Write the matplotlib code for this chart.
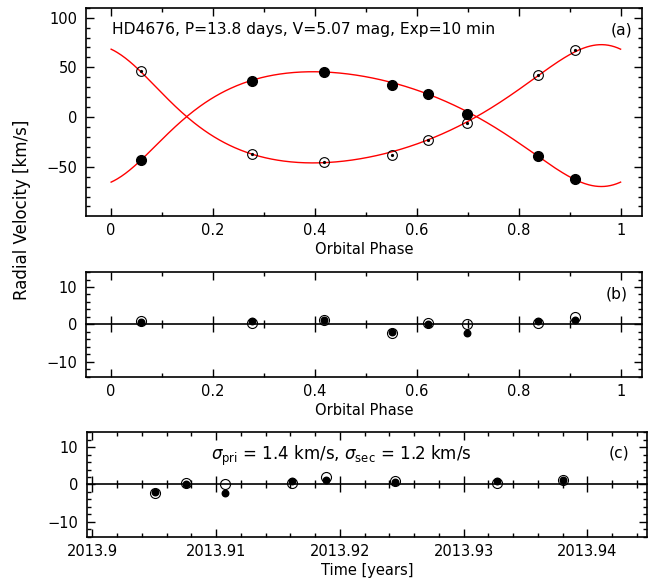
import numpy as np
import matplotlib
matplotlib.use("Agg")
import matplotlib.pyplot as plt
from matplotlib.ticker import MultipleLocator, FuncFormatter

# ---------------- data ----------------
phase = [0.058, 0.276, 0.418, 0.551, 0.621, 0.698, 0.838, 0.911]
rv_pri = [-43.3, 36.7, 45.7, 32.7, 23.0, 3.3, -39.7, -62.3]
rv_sec = [46.0, -36.7, -45.7, -38.0, -23.3, -6.3, 42.0, 67.3]
res_pri = [0.6, 1.0, 1.2, -2.0, 0.2, -2.3, 0.8, 1.3]
res_sec = [0.9, 0.5, 1.3, -2.2, 0.4, 0.2, 0.3, 1.9]
obs_time = [2013.9245, 2013.9327, 2013.9380, 2013.9051, 2013.9076,
            2013.9107, 2013.9161, 2013.9189]

# orbital solution (model curve parameters)
ecc = 0.24
omega_deg = 205.0
K1 = 57.75
K2 = 59.5
gamma = 0.4
phase_peri = 0.004

title_text = "HD4676, P=13.8 days, V=5.07 mag, Exp=10 min"
sigma_text = r"$\sigma_{\rm pri}$ = 1.4 km/s, $\sigma_{\rm sec}$ = 1.2 km/s"


def kepler_rv(ph):
    M = 2 * np.pi * (ph - phase_peri)
    E = M.copy()
    for _ in range(50):
        E = E - (E - ecc * np.sin(E) - M) / (1 - ecc * np.cos(E))
    nu = 2 * np.arctan2(np.sqrt(1 + ecc) * np.sin(E / 2),
                        np.sqrt(1 - ecc) * np.cos(E / 2))
    w = np.radians(omega_deg)
    base = np.cos(nu + w) + ecc * np.cos(w)
    return gamma + K1 * base, gamma - K2 * base


plt.rcParams['font.family'] = ['DejaVu Sans']
FS = 10.5
FS_T = 11.2
LW = 1.2

fig = plt.figure(figsize=(6.49, 5.81), dpi=100)
axa = fig.add_axes([0.1320, 0.6287, 0.8572, 0.3580])
axb = fig.add_axes([0.1320, 0.3516, 0.8572, 0.1802])
axc = fig.add_axes([0.1336, 0.0763, 0.8638, 0.1797])

fmt = FuncFormatter(lambda v, p: ("%g" % v).replace("-", "\u2212"))


def style(ax, xmaj, xmin, ymaj, ymin):
    ax.xaxis.set_major_locator(MultipleLocator(xmaj))
    ax.xaxis.set_minor_locator(MultipleLocator(xmin))
    ax.yaxis.set_major_locator(MultipleLocator(ymaj))
    ax.yaxis.set_minor_locator(MultipleLocator(ymin))
    ax.xaxis.set_major_formatter(fmt)
    ax.yaxis.set_major_formatter(fmt)
    ax.tick_params(which='both', direction='in', top=True, right=True,
                   width=1.0, labelsize=FS, colors='black')
    ax.tick_params(axis='x', which='both', pad=5)
    ax.tick_params(axis='y', which='both', pad=6)
    ax.tick_params(which='major', length=5.5)
    ax.tick_params(which='minor', length=3)
    for s in ax.spines.values():
        s.set_linewidth(LW)


def zero_axis(ax, xmaj, xmin):
    sec = ax.secondary_xaxis(0.5)
    sec.xaxis.set_major_locator(MultipleLocator(xmaj))
    sec.xaxis.set_minor_locator(MultipleLocator(xmin))
    sec.tick_params(which='both', direction='inout', labelbottom=False,
                    labeltop=False, width=1.0)
    sec.tick_params(which='major', length=11)
    sec.tick_params(which='minor', length=6)
    for s in sec.spines.values():
        s.set_linewidth(LW)


# ---------------- panel (a) ----------------
grid = np.linspace(0, 1, 500)
mp, ms_ = kepler_rv(grid)
axa.plot(grid, mp, color='red', lw=1.0)
axa.plot(grid, ms_, color='red', lw=1.0)
axa.plot(phase, rv_sec, 'o', mfc='none', mec='black', mew=0.8, ms=7)
axa.plot(phase, rv_sec, 'o', color='black', ms=1.3)
axa.plot(phase, rv_pri, 'o', color='black', ms=7)
axa.set_xlim(-0.05, 1.042)
axa.set_ylim(-99.3, 110)
style(axa, 0.2, 0.1, 50, 10)
axa.set_xlabel("Orbital Phase", fontsize=FS, labelpad=3)
axa.text(0.0467, 0.893, title_text, transform=axa.transAxes, fontsize=FS_T,
         ha='left', va='center')
axa.text(0.982, 0.893, "(a)", transform=axa.transAxes, fontsize=FS_T,
         ha='right', va='center')

# ---------------- panel (b) ----------------
axb.plot(phase, res_sec, 'o', mfc='none', mec='black', mew=0.8, ms=7.2)
axb.plot(phase, res_pri, 'o', color='black', ms=4.7)
axb.set_xlim(-0.05, 1.042)
axb.set_ylim(-14, 14)
style(axb, 0.2, 0.1, 10, 2)
zero_axis(axb, 0.2, 0.1)
axb.set_xlabel("Orbital Phase", fontsize=FS, labelpad=3)
axb.text(0.975, 0.79, "(b)", transform=axb.transAxes, fontsize=FS_T,
         ha='right', va='center')

# ---------------- panel (c) ----------------
axc.plot(obs_time, res_sec, 'o', mfc='none', mec='black', mew=0.8, ms=7.2)
axc.plot(obs_time, res_pri, 'o', color='black', ms=4.7)
axc.set_xlim(2013.89955, 2013.94485)
axc.set_ylim(-14, 14)
style(axc, 0.01, 0.002, 10, 2)
zero_axis(axc, 0.01, 0.002)
axc.set_xlabel("Time [years]", fontsize=FS, labelpad=3)
axc.text(0.967, 0.806, "(c)", transform=axc.transAxes, fontsize=FS_T,
         ha='right', va='center')
axc.text(0.455, 0.773, sigma_text, transform=axc.transAxes, fontsize=12,
         ha='center', va='center')

fig.text(0.034, 0.639, "Radial Velocity [km/s]", rotation=90, fontsize=12,
         ha='center', va='center')

fig.savefig("out.png", dpi=100)
